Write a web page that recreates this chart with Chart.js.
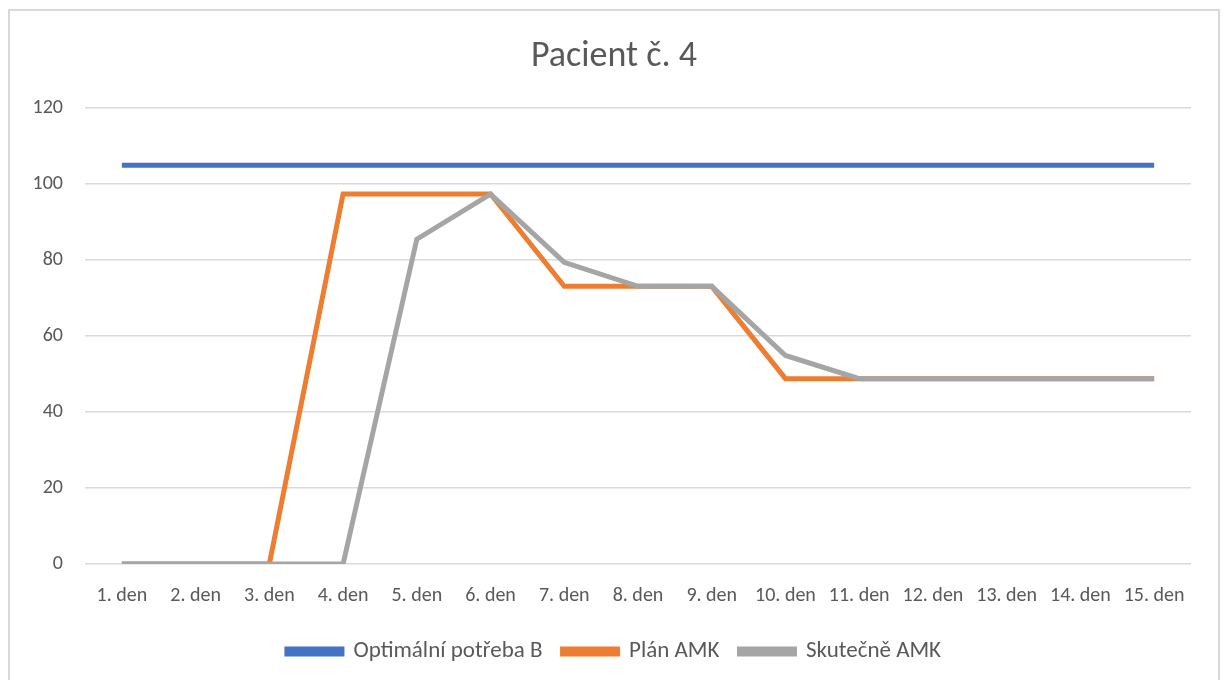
<!DOCTYPE html>
<html>
<head>
<meta charset="utf-8">
<script src="https://cdn.jsdelivr.net/npm/chart.js@4/dist/chart.umd.min.js"></script>
<style>
  html,body{margin:0;padding:0;background:#fff;overflow:hidden;}
  #wrap{position:absolute;left:8px;top:9px;width:1212px;height:690px;border:2px solid #d9d9d9;box-sizing:border-box;}
  #wrap canvas{display:block;}
</style>
</head>
<body>
<div id="wrap"><canvas id="chart"></canvas></div>
<script>
// ===== Data =====
const days = ["1. den","2. den","3. den","4. den","5. den","6. den","7. den","8. den","9. den","10. den","11. den","12. den","13. den","14. den","15. den"];
const optimalni = [105,105,105,105,105,105,105,105,105,105,105,105,105,105,105];
const planAMK = [0,0,0,97.4,97.4,97.4,73.1,73.1,73.1,48.8,48.8,48.8,48.8,48.8,48.8];
const skutecneAMK = [0,0,0,0,85.5,97.4,79.4,73.1,73.1,54.9,48.8,48.8,48.8,48.8,48.8];
const yTicks = [0,20,40,60,80,100,120];

const font = "Carlito, Calibri, 'Liberation Sans Narrow', 'Open Sans', sans-serif";

// title and legend are centred on the whole frame, not on the space left of the right padding
const recentre = {
  id:'recentre',
  afterLayout(chart){
    const shift = 13.5;
    [chart.titleBlock, chart.legend].forEach(b=>{
      if(b){ b.left += shift; b.right += shift; }
    });
  }
};

const ctx = document.getElementById("chart").getContext("2d");
new Chart(ctx,{
  type:'line',
  data:{
    labels:days,
    datasets:[
      {label:'Optimální potřeba B',data:optimalni,borderColor:'#4472c4',backgroundColor:'#4472c4',borderWidth:5,pointRadius:0,tension:0,order:2},
      {label:'Plán AMK',data:planAMK,borderColor:'#ed7d31',backgroundColor:'#ed7d31',borderWidth:5,pointRadius:0,tension:0,order:1},
      {label:'Skutečně AMK',data:skutecneAMK,borderColor:'#a5a5a5',backgroundColor:'#a5a5a5',borderWidth:5,pointRadius:0,tension:0,order:0}
    ]
  },
  options:{
    responsive:true,
    maintainAspectRatio:false,
    animation:false,
    layout:{padding:{left:0,right:27,top:0,bottom:24}},
    plugins:{
      title:{display:true,text:'Pacient č. 4',color:'#595959',font:{family:font,size:36,weight:'normal'},padding:{top:24,bottom:30}},
      legend:{position:'bottom',
        labels:{color:'#595959',font:{family:font,size:23},boxWidth:55,boxHeight:5,padding:20,
          sort:(a,b)=>a.datasetIndex-b.datasetIndex},
        onClick:null},
      tooltip:{enabled:false}
    },
    scales:{
      x:{
        offset:true,
        grid:{display:false},
        border:{display:false},
        ticks:{color:'#595959',font:{family:font,size:20},autoSkip:false,maxRotation:0,minRotation:0,padding:12}
      },
      y:{
        min:0,max:120,
        afterBuildTicks:axis=>{axis.ticks = yTicks.map(v=>({value:v}));},
        afterFit:axis=>{axis.width = 75;},
        grid:{color:'#d9d9d9',lineWidth:1.5,drawTicks:false},
        border:{display:false},
        ticks:{color:'#595959',font:{family:font,size:20},padding:22}
      }
    }
  },
  plugins:[recentre]
});
</script>
</body>
</html>
